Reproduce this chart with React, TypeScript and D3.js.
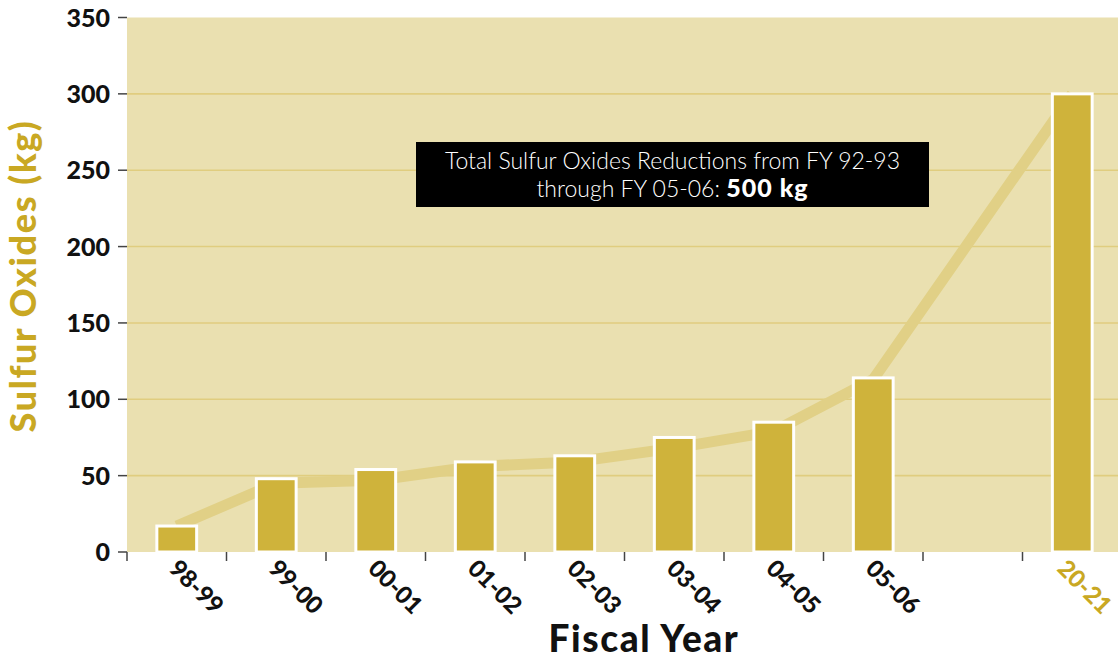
import React from "react";
import * as d3 from "d3";

const categories = ["98-99", "99-00", "00-01", "01-02", "02-03", "03-04", "04-05", "05-06", "", "20-21"];
const barValues = [17, 48, 54, 59, 63, 75, 85, 114, null, 300];
const trendValues = [17, 45, 47, 56, 59, 68, 79, 113, null, 300];
const yTicks = [0, 50, 100, 150, 200, 250, 300, 350];
const gridValues = [50, 100, 150, 200, 250, 300];
const highlightCategory = "20-21";
const annotationLine1 = "Total Sulfur Oxides Reductions from FY 92-93";
const annotationLine2a = "through FY 05-06: ";
const annotationLine2b = "500 kg";
const yTitle = "Sulfur Oxides (kg)";
const xTitle = "Fiscal Year";

const W = 1118;
const H = 659;
const plotLeft = 127;
const plotRight = 1118;
const plotTop = 17.5;
const plotBottom = 552;

const GOLD = "#c9a823";
const BAR = "#cfb33b";
const BG = "#eae0b0";
const GRID = "#e0cd7f";
const TREND = "#e1d086";
const FONT = "Lato, 'Open Sans', sans-serif";

export default function App() {
  const x = d3.scaleBand<string>().domain(categories).range([plotLeft, plotLeft + 995]).padding(0);
  const y = d3.scaleLinear().domain([0, 350]).range([plotBottom, plotTop]);
  const barW = x.bandwidth() * 0.4;

  const trendPts = categories
    .map((c, i) => ({ c, v: trendValues[i] }))
    .filter((d) => d.v !== null) as { c: string; v: number }[];
  const line = d3
    .line<{ c: string; v: number }>()
    .x((d) => (x(d.c) as number) + x.bandwidth() / 2)
    .y((d) => y(d.v))
    .curve(d3.curveLinear);

  const boxX = 416;
  const boxY = 142;
  const boxW = 513;
  const boxH = 65;
  const boxCx = boxX + boxW / 2;

  return (
    <svg
      width={W}
      height={H}
      style={{ position: "fixed", left: 0, top: 0, background: "#fff" }}
      fontFamily={FONT}
    >
      <rect x={plotLeft} y={plotTop} width={plotRight - plotLeft} height={plotBottom - plotTop} fill={BG} />
      {gridValues.map((v) => (
        <line key={v} x1={plotLeft} x2={plotRight} y1={y(v)} y2={y(v)} stroke={GRID} strokeWidth={1.6} />
      ))}
      <path d={line(trendPts) || ""} fill="none" stroke={TREND} strokeWidth={11} strokeLinejoin="round" />
      {categories.map((c, i) => {
        const v = barValues[i];
        if (v === null) return null;
        const cx = (x(c) as number) + x.bandwidth() / 2;
        return (
          <rect
            key={c}
            x={cx - barW / 2}
            y={y(v)}
            width={barW}
            height={plotBottom - y(v)}
            fill={BAR}
            stroke="#fff"
            strokeWidth={3}
          />
        );
      })}
      {yTicks.map((v) => (
        <g key={v}>
          <line x1={118} x2={plotLeft} y1={y(v)} y2={y(v)} stroke="#444" strokeWidth={1.5} />
          <text x={110} y={y(v)} dy="0.36em" textAnchor="end" fontSize={25} fontWeight={900} fill="#111">
            {v}
          </text>
        </g>
      ))}
      {categories.map((c) => (
        <line
          key={"t" + c}
          x1={x(c) as number}
          x2={x(c) as number}
          y1={plotBottom}
          y2={plotBottom + 9}
          stroke="#444"
          strokeWidth={1.5}
        />
      ))}
      {categories.map((c) => {
        if (!c) return null;
        const cx = (x(c) as number) + x.bandwidth() / 2;
        const ax = Math.min(cx - 9, W - 62);
        const ay = 570;
        return (
          <text
            key={"l" + c}
            x={ax}
            y={ay}
            transform={`rotate(45, ${ax}, ${ay})`}
            fontSize={24}
            fontWeight={900}
            fill={c === highlightCategory ? GOLD : "#111"}
          >
            {c}
          </text>
        );
      })}
      <text
        x={36}
        y={276}
        transform={`rotate(-90, 36, 276)`}
        textAnchor="middle"
        fontSize={36}
        fontWeight={900}
        letterSpacing={1.6}
        fill={GOLD}
      >
        {yTitle}
      </text>
      <text x={644} y={652} textAnchor="middle" fontSize={37} fontWeight={900} letterSpacing={1.6} fill="#111">
        {xTitle}
      </text>
      <rect x={boxX} y={boxY} width={boxW} height={boxH} fill="#000" />
      <text x={boxCx} y={169} textAnchor="middle" fontSize={23} fontWeight={300} fill="#fff">
        {annotationLine1}
      </text>
      <text x={boxCx} y={197} textAnchor="middle" fontSize={23} fontWeight={300} fill="#fff">
        {annotationLine2a}
        <tspan fontWeight={900} fontSize={25} letterSpacing={1}>
          {annotationLine2b}
        </tspan>
      </text>
    </svg>
  );
}
